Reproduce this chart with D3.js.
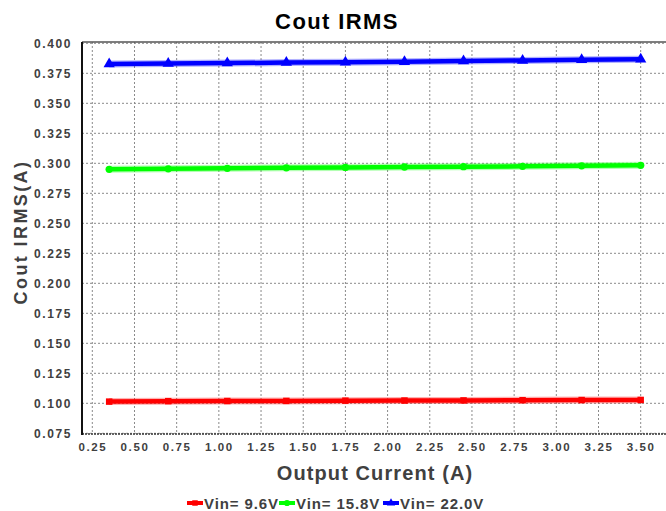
<!DOCTYPE html>
<html>
<head>
<meta charset="utf-8">
<script src="https://cdn.jsdelivr.net/npm/d3@7"></script>
<style>
  html, body { margin: 0; padding: 0; background: #fff; }
  svg { display: block; font-family: "Liberation Sans", Arial, sans-serif; }
</style>
</head>
<body>
<svg id="chart" width="666" height="511"></svg>
<script>
// Output current sweep (A)
const currents = [0.35, 0.70, 1.05, 1.40, 1.75, 2.10, 2.45, 2.80, 3.15, 3.50];

// Output capacitor RMS current (A) per input voltage
const vin96  = [0.1014, 0.1018, 0.1019, 0.1020, 0.1022, 0.1023, 0.1024, 0.1026, 0.1027, 0.1028];
const vin158 = [0.2950, 0.2954, 0.2958, 0.2962, 0.2966, 0.2969, 0.2972, 0.2975, 0.2979, 0.2983];
const vin220 = [0.3828, 0.3831, 0.3835, 0.3839, 0.3843, 0.3847, 0.3852, 0.3857, 0.3862, 0.3868];

const seriesNames = ["Vin= 9.6V", "Vin= 15.8V", "Vin= 22.0V"];
const xTicks = [0.25, 0.50, 0.75, 1.00, 1.25, 1.50, 1.75, 2.00, 2.25, 2.50, 2.75, 3.00, 3.25, 3.50];
const yTicks = [0.075, 0.100, 0.125, 0.150, 0.175, 0.200, 0.225, 0.250, 0.275, 0.300, 0.325, 0.350, 0.375, 0.400];

const series = [
  { name: seriesNames[0], values: vin96,  color: "#ff0000", shape: d3.symbolSquare },
  { name: seriesNames[1], values: vin158, color: "#00ff00", shape: d3.symbolCircle },
  { name: seriesNames[2], values: vin220, color: "#0000ff", shape: d3.symbolTriangle }
];

const svg = d3.select("#chart");
const plot = { left: 82, right: 668, top: 42, bottom: 434 };

const x = d3.scaleLinear().domain([0.25, 3.5]).range([92.3, 640.7]);
const y = d3.scaleLinear().domain([0.075, 0.4]).range([433.3, 43.3]);

// Grid lines
const grid = svg.append("g");
grid.selectAll("line.v").data(xTicks).join("line")
  .attr("x1", d => x(d)).attr("x2", d => x(d))
  .attr("y1", plot.top).attr("y2", plot.bottom)
  .attr("stroke", "#8a8a8a").attr("stroke-width", 1).attr("stroke-dasharray", "2,2");
grid.selectAll("line.h").data(yTicks).join("line")
  .attr("x1", plot.left).attr("x2", plot.right)
  .attr("y1", d => y(d)).attr("y2", d => y(d))
  .attr("stroke", "#8a8a8a").attr("stroke-width", 1).attr("stroke-dasharray", "2,2");

// Frame
svg.append("line").attr("x1", plot.left).attr("x2", plot.right)
  .attr("y1", plot.top).attr("y2", plot.top)
  .attr("stroke", "#555").attr("stroke-width", 1.5);
svg.append("line").attr("x1", plot.left).attr("x2", plot.right)
  .attr("y1", plot.bottom).attr("y2", plot.bottom)
  .attr("stroke", "#333").attr("stroke-width", 1.5).attr("stroke-dasharray", "2,1");
svg.append("line").attr("x1", plot.left).attr("x2", plot.left)
  .attr("y1", plot.top).attr("y2", plot.bottom + 1)
  .attr("stroke", "#111").attr("stroke-width", 2);

// Axes (labels only)
const xAxis = d3.axisBottom(x).tickValues(xTicks).tickFormat(d3.format(".2f")).tickSize(0).tickPadding(0);
const gx = svg.append("g").attr("transform", `translate(0,${plot.bottom + 9})`).call(xAxis);
gx.select(".domain").remove();
gx.selectAll("text")
  .attr("dy", "0.71em")
  .attr("fill", "#404040")
  .style("font-size", "11.5px").style("font-weight", "bold").style("letter-spacing", "1.6px");

const yAxis = d3.axisLeft(y).tickValues(yTicks).tickFormat(d3.format(".3f")).tickSize(0).tickPadding(0);
const gy = svg.append("g").attr("transform", `translate(${plot.left - 10},0)`).call(yAxis);
gy.select(".domain").remove();
gy.selectAll("text")
  .attr("dy", "0.36em")
  .attr("fill", "#404040")
  .style("font-size", "12px").style("font-weight", "bold").style("letter-spacing", "1.6px");

// Series
const line = d3.line().x((d, i) => x(currents[i])).y(d => y(d));
series.forEach(s => {
  const g = svg.append("g");
  g.append("path").datum(s.values).attr("d", line)
    .attr("fill", "none").attr("stroke", s.color).attr("stroke-width", 7).attr("stroke-opacity", 0.3);
  g.append("path").datum(s.values).attr("d", line)
    .attr("fill", "none").attr("stroke", s.color).attr("stroke-width", 4.5);
  g.selectAll("path.m").data(s.values).join("path")
    .attr("transform", (d, i) => `translate(${x(currents[i])},${y(d)})`)
    .attr("d", d3.symbol().type(s.shape).size(s.shape === d3.symbolTriangle ? 55 : 42))
    .attr("fill", s.color);
});

// Title
svg.append("text").attr("x", 337).attr("y", 28.5).attr("text-anchor", "middle")
  .attr("fill", "#000").style("font-size", "22px").style("font-weight", "bold")
  .style("letter-spacing", "1.4px").text("Cout IRMS");

// Axis titles
svg.append("text").attr("x", 375).attr("y", 480).attr("text-anchor", "middle")
  .attr("fill", "#404040").style("font-size", "20px").style("font-weight", "bold")
  .style("letter-spacing", "1.1px").text("Output Current (A)");
svg.append("text").attr("transform", "translate(27,232) rotate(-90)").attr("text-anchor", "middle")
  .attr("fill", "#404040").style("font-size", "18px").style("font-weight", "bold")
  .style("letter-spacing", "2.4px").text("Cout IRMS(A)");

// Legend
const legendX = [187, 279, 383];
const leg = svg.append("g");
series.forEach((s, i) => {
  const gx0 = legendX[i];
  const g = leg.append("g").attr("transform", `translate(${gx0},503)`);
  g.append("line").attr("x1", 0).attr("x2", 16).attr("y1", 0).attr("y2", 0)
    .attr("stroke", s.color).attr("stroke-width", 4);
  g.append("path").attr("transform", "translate(8,0)")
    .attr("d", d3.symbol().type(s.shape).size(30)).attr("fill", s.color);
  g.append("text").attr("x", 17).attr("y", 5.5)
    .attr("fill", "#404040").style("font-size", "15px").style("font-weight", "bold")
    .style("letter-spacing", "0.9px").text(s.name);
});
</script>
</body>
</html>
